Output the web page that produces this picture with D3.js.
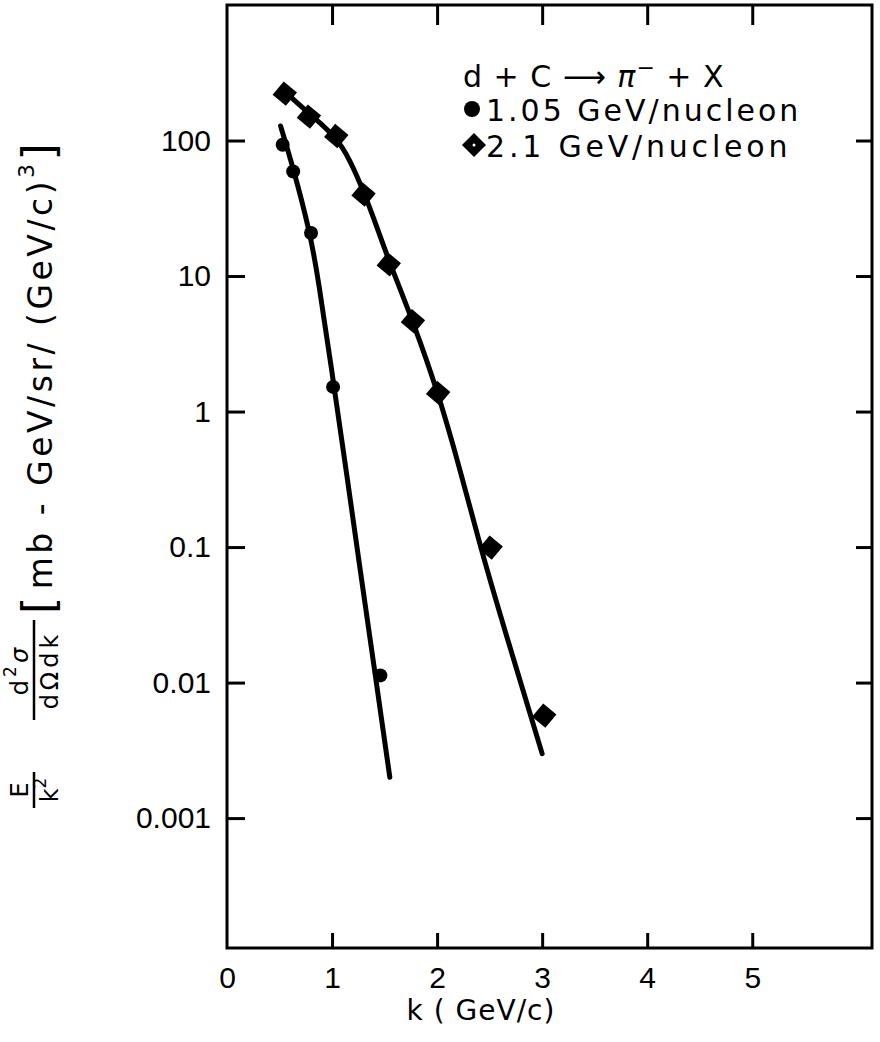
<!DOCTYPE html>
<html>
<head>
<meta charset="utf-8">
<script src="https://d3js.org/d3.v7.min.js"></script>
<style>
  body { margin: 0; background: #fff; }
  svg { font-family: "DejaVu Sans", sans-serif; }
  .tick text { font-size: 30px; fill: #000; }
  .tick line { stroke: #000; stroke-width: 3px; }
  .curve { fill: none; stroke: #000; stroke-width: 5px; stroke-linecap: round; stroke-linejoin: round; }
</style>
</head>
<body>
<div id="chart"></div>
<script>
// k (GeV/c) of the measured points
var kLow = [0.53, 0.63, 0.80, 1.01, 1.46];
var valLow = [93, 59, 20.8, 1.52, 0.0113];
var kHigh = [0.55, 0.78, 1.04, 1.30, 1.54, 1.77, 2.01, 2.51, 3.02];
var valHigh = [222, 150, 108, 40, 12.2, 4.64, 1.37, 0.099, 0.0057];

// hand drawn fit lines
var fitLowK = [0.51, 0.63, 0.79, 0.867, 1.01, 1.143, 1.267, 1.41, 1.55];
var fitLowV = [128, 63, 21, 9.75, 1.72, 0.331, 0.0682, 0.0116, 0.0020];
var fitHighK = [0.55, 0.79, 1.038, 1.17, 1.305, 1.429, 1.543, 1.771, 2.01, 2.219, 2.41, 2.648, 2.905, 3.0];
var fitHighV = [230, 156, 107, 72, 41.3, 22.8, 12.8, 4.62, 1.38, 0.373, 0.101, 0.0238, 0.00525, 0.00299];

var xTicks = [0, 1, 2, 3, 4, 5];
var xTickLabels = ["0", "1", "2", "3", "4", "5"];
var yTicks = [100, 10, 1, 0.1, 0.01, 0.001];
var yTickLabels = ["100", "10", "1", "0.1", "0.01", "0.001"];

var W = 880, H = 1042;
var svg = d3.select("#chart").append("svg").attr("width", W).attr("height", H);

var x = d3.scaleLinear().domain([0, 6.14]).range([227, 872]);
var y = d3.scaleLog().domain([1.1e-4, 1000]).range([948, 5]);

// frame
svg.append("rect")
  .attr("x", x.range()[0]).attr("y", y.range()[1])
  .attr("width", x.range()[1] - x.range()[0])
  .attr("height", y.range()[0] - y.range()[1])
  .attr("fill", "none").attr("stroke", "#000").attr("stroke-width", 3);

// axes, ticks pointing inward
var gx = svg.append("g").attr("transform", "translate(0," + y.range()[0] + ")")
  .call(d3.axisBottom(x).tickValues(xTicks).tickSizeInner(-15).tickSizeOuter(0).tickPadding(19)
    .tickFormat(function(d, i) { return xTickLabels[i]; }));
gx.select(".domain").remove();
gx.selectAll(".tick").filter(function(d) { return d === 0; }).select("line").remove();

var gxt = svg.append("g").attr("transform", "translate(0," + y.range()[1] + ")")
  .call(d3.axisTop(x).tickValues(xTicks.slice(1)).tickSizeInner(-20).tickSizeOuter(0).tickFormat(""));
gxt.select(".domain").remove();

var gy = svg.append("g").attr("transform", "translate(" + x.range()[0] + ",0)")
  .call(d3.axisLeft(y).tickValues(yTicks).tickSizeInner(-18).tickSizeOuter(0).tickPadding(16)
    .tickFormat(function(d, i) { return yTickLabels[i]; }));
gy.select(".domain").remove();

var gyr = svg.append("g").attr("transform", "translate(" + x.range()[1] + ",0)")
  .call(d3.axisRight(y).tickValues(yTicks).tickSizeInner(-16).tickSizeOuter(0).tickFormat(""));
gyr.select(".domain").remove();

// fit lines
var line = d3.line()
  .x(function(d) { return x(d[0]); })
  .y(function(d) { return y(d[1]); })
  .curve(d3.curveBasis);

svg.append("path").attr("class", "curve")
  .attr("d", line(d3.zip(fitLowK, fitLowV)));
svg.append("path").attr("class", "curve")
  .attr("d", line(d3.zip(fitHighK, fitHighV)));

// points
svg.append("g").selectAll("circle")
  .data(d3.zip(kLow, valLow))
  .join("circle")
  .attr("cx", function(d) { return x(d[0]); })
  .attr("cy", function(d) { return y(d[1]); })
  .attr("r", 7)
  .attr("fill", "#000");

var diamond = d3.symbol().type(d3.symbolSquare).size(300);
svg.append("g").selectAll("path")
  .data(d3.zip(kHigh, valHigh))
  .join("path")
  .attr("d", diamond)
  .attr("transform", function(d) { return "translate(" + x(d[0]) + "," + y(d[1]) + ") rotate(40)"; })
  .attr("fill", "#000");

// legend
var leg = svg.append("g").attr("font-size", 30).attr("fill", "#000");
var t1 = leg.append("text").attr("x", 463).attr("y", 87).attr("letter-spacing", 1);
t1.append("tspan").text("d + C ");
t1.append("tspan").text("\u27F6");
t1.append("tspan").attr("font-style", "italic").text(" \u03C0");
t1.append("tspan").attr("dy", -12).attr("font-size", 22).text("\u2212");
t1.append("tspan").attr("dy", 12).text(" + X");

leg.append("circle").attr("cx", 472).attr("cy", 109).attr("r", 8).attr("fill", "#000");
leg.append("text").attr("x", 486).attr("y", 121).attr("letter-spacing", 3).text("1.05 GeV/nucleon");

leg.append("path").attr("d", d3.symbol().type(d3.symbolSquare).size(290))
  .attr("transform", "translate(474,145) rotate(45)").attr("fill", "#000");
leg.append("circle").attr("cx", 474).attr("cy", 145).attr("r", 1.5).attr("fill", "#fff");
leg.append("text").attr("x", 486).attr("y", 157).attr("letter-spacing", 3.8).text("2.1 GeV/nucleon");

// x axis title
svg.append("text")
  .attr("x", 481).attr("y", 1020)
  .attr("text-anchor", "middle").attr("font-size", 28).attr("letter-spacing", 1)
  .text("k ( GeV/c)");

// y axis title, rotated
var yt = svg.append("g").attr("transform", "rotate(-90)").attr("fill", "#000");
// E / k^2
yt.append("text").attr("x", -790).attr("y", 28).attr("text-anchor", "middle").attr("font-size", 24).text("E");
yt.append("line").attr("x1", -808).attr("x2", -772).attr("y1", 34).attr("y2", 34)
  .attr("stroke", "#000").attr("stroke-width", 2.5);
var k2 = yt.append("text").attr("x", -790).attr("y", 58).attr("text-anchor", "middle").attr("font-size", 24);
k2.append("tspan").text("k");
k2.append("tspan").attr("dy", -12).attr("font-size", 17).text("2");
// d^2 sigma / dOmega dk
var dn = yt.append("text").attr("x", -670).attr("y", 28).attr("text-anchor", "middle").attr("font-size", 24).attr("letter-spacing", 3);
dn.append("tspan").text("d");
dn.append("tspan").attr("dy", -12).attr("font-size", 17).text("2");
dn.append("tspan").attr("dy", 12).attr("font-style", "italic").text("\u03C3");
yt.append("line").attr("x1", -720).attr("x2", -620).attr("y1", 34).attr("y2", 34)
  .attr("stroke", "#000").attr("stroke-width", 2.5);
yt.append("text").attr("x", -670).attr("y", 58).attr("text-anchor", "middle").attr("font-size", 24).attr("letter-spacing", 4)
  .text("d\u03A9dk");
// units in brackets
var un = yt.append("text").attr("x", -614).attr("y", 52).attr("font-size", 33).attr("letter-spacing", 3.5);
un.append("tspan").attr("font-size", 44).attr("dy", 2).text("[");
un.append("tspan").attr("dy", -2).attr("dx", 4).text("mb - GeV/sr/ (GeV/c)");
un.append("tspan").attr("dy", -18).attr("font-size", 22).text("3");
un.append("tspan").attr("dy", 20).attr("font-size", 44).text("]");
</script>
</body>
</html>
